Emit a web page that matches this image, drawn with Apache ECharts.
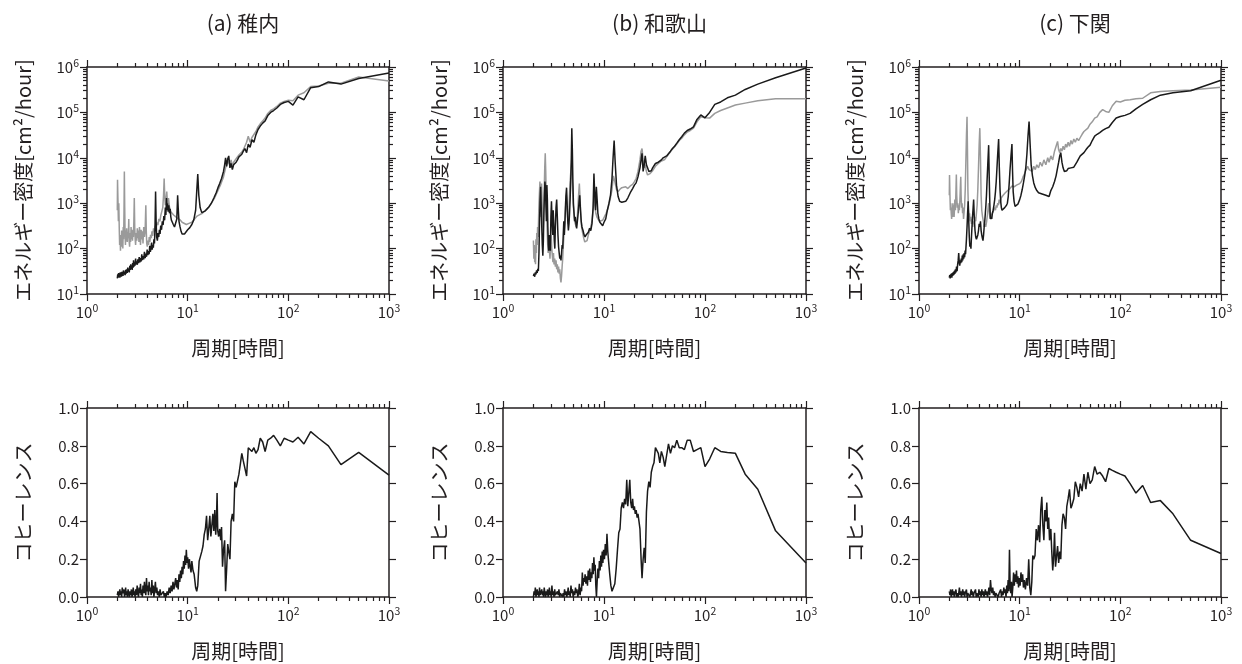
<!DOCTYPE html>
<html><head><meta charset="utf-8">
<script src="https://cdn.jsdelivr.net/npm/echarts@6.0.0/dist/echarts.min.js"></script>
<style>html,body{margin:0;padding:0;background:#fff}#chart{width:1242px;height:664px}</style>
</head><body><div id="chart"></div>
<script>
// ---------------- DATA ----------------
const panelTitles = ['(a) 稚内', '(b) 和歌山', '(c) 下関'];
const xName = '周期[時間]';
const energyName = 'エネルギー密度[cm²/hour]';
const cohName = 'コヒーレンス';

const xMajorTicks = [1, 10, 100, 1000];
const xMinorTicks = [2,3,4,5,6,7,8,9,20,30,40,50,60,70,80,90,200,300,400,500,600,700,800,900];
const yLogMajorTicks = [10, 100, 1000, 10000, 100000, 1000000];
const yLogMinorTicks = [20,30,40,50,60,70,80,90,200,300,400,500,600,700,800,900,
  2000,3000,4000,5000,6000,7000,8000,9000,20000,30000,40000,50000,60000,70000,80000,90000,
  200000,300000,400000,500000,600000,700000,800000,900000];

// (a) 稚内 energy density: black line
const energyA_black = [[2.00,22],[2.02,27],[2.04,23],[2.06,29],[2.08,24],[2.10,28],[2.12,23],[2.14,30],[2.16,25],[2.18,29],[2.20,24],[2.22,31],[2.24,26],[2.26,29],[2.28,25],[2.30,33],[2.33,27],[2.36,31],[2.39,26],[2.42,34],[2.45,28],[2.48,35],[2.51,29],[2.54,38],[2.57,31],[2.60,36],[2.63,30],[2.66,42],[2.69,34],[2.72,45],[2.75,36],[2.78,40],[2.81,34],[2.84,48],[2.87,38],[2.90,55],[2.93,40],[2.96,50],[3.00,42],[3.04,60],[3.08,45],[3.12,52],[3.16,44],[3.20,58],[3.25,48],[3.30,65],[3.35,50],[3.40,62],[3.45,52],[3.50,75],[3.55,56],[3.60,68],[3.66,58],[3.72,85],[3.78,62],[3.84,78],[3.90,66],[3.96,95],[4.02,72],[4.08,88],[4.14,75],[4.20,115],[4.26,85],[4.32,100],[4.38,135],[4.44,95],[4.50,120],[4.56,105],[4.62,160],[4.68,130],[4.74,300],[4.80,1800],[4.86,400],[4.92,180],[5.00,150],[5.08,220],[5.16,180],[5.24,260],[5.32,210],[5.40,320],[5.50,260],[5.60,400],[5.70,330],[5.80,520],[5.90,420],[6.00,800],[6.08,550],[6.16,1300],[6.24,700],[6.32,1000],[6.40,650],[6.50,900],[6.60,600],[6.70,750],[6.80,500],[6.90,420],[7.00,380],[7.20,340],[7.40,300],[7.60,320],[7.80,450],[7.95,1500],[8.05,800],[8.20,400],[8.40,300],[8.60,240],[8.80,210],[9.00,195],[9.30,210],[9.60,230],[10.0,260],[10.5,290],[11.0,340],[11.5,430],[12.0,700],[12.3,1800],[12.6,4400],[12.9,1500],[13.3,800],[13.8,620],[14.3,600],[15.0,680],[15.6,720],[16.4,850],[17.2,1000],[18.2,1300],[19.2,1700],[20.0,2200],[20.8,2700],[21.7,3500],[22.7,5000],[23.3,7000],[23.8,10000],[24.4,6500],[25.0,9500],[25.6,11000],[26.3,6000],[27.0,7500],[27.8,5500],[28.6,7000],[29.4,6500],[30.3,8000],[31.25,9000],[32.3,10500],[33.3,9500],[34.5,12000],[35.7,14000],[37.0,16000],[38.5,13000],[40.0,20000],[41.7,17000],[43.5,25000],[45.5,22000],[47.6,32000],[50.0,42000],[52.6,50000],[55.6,58000],[58.8,65000],[62.5,85000],[66.7,100000],[71.4,110000],[76.9,125000],[83.3,150000],[90.9,165000],[100,175000],[111.1,145000],[125,220000],[142.9,190000],[166.7,350000],[200,370000],[250,470000],[333.3,420000],[500,560000],[1000,740000]];
// (a) 稚内 energy density: gray line
const energyA_gray = [[2.00,700],[2.01,3300],[2.03,1200],[2.05,400],[2.07,1000],[2.09,300],[2.11,120],[2.13,200],[2.15,90],[2.17,160],[2.19,110],[2.21,250],[2.23,130],[2.25,200],[2.27,100],[2.29,300],[2.31,160],[2.33,600],[2.35,5000],[2.37,800],[2.39,200],[2.41,120],[2.43,250],[2.45,150],[2.48,280],[2.51,140],[2.54,230],[2.57,170],[2.60,450],[2.62,150],[2.65,110],[2.68,220],[2.71,140],[2.74,300],[2.77,160],[2.80,260],[2.83,150],[2.86,220],[2.89,180],[2.92,400],[2.95,1300],[2.98,300],[3.01,160],[3.04,120],[3.08,220],[3.12,150],[3.16,280],[3.20,170],[3.24,250],[3.28,140],[3.32,300],[3.36,200],[3.40,120],[3.45,260],[3.50,160],[3.55,240],[3.60,130],[3.66,300],[3.72,180],[3.78,250],[3.84,900],[3.88,250],[3.92,130],[3.97,110],[4.03,150],[4.09,120],[4.15,180],[4.21,140],[4.28,200],[4.35,170],[4.42,240],[4.50,190],[4.58,280],[4.66,230],[4.76,320],[4.86,280],[4.96,380],[5.06,330],[5.18,450],[5.30,400],[5.42,550],[5.54,500],[5.66,800],[5.76,1500],[5.84,3500],[5.92,1400],[6.00,900],[6.10,1200],[6.20,1800],[6.30,1000],[6.45,1300],[6.60,800],[6.80,650],[7.00,700],[7.25,550],[7.50,500],[7.80,480],[8.10,520],[8.40,430],[8.80,380],[9.20,350],[9.70,340],[10.3,360],[11.0,380],[11.7,450],[12.4,520],[13.2,560],[14.0,600],[15.0,700],[16.0,800],[17.2,1000],[18.5,1300],[20.0,1900],[21.3,2600],[22.7,3800],[23.8,6000],[25.0,8500],[26.3,7000],[27.0,9000],[27.8,6500],[28.6,8000],[30.3,9500],[31.25,10000],[32.3,11500],[33.3,12000],[34.5,13500],[35.7,15000],[37.0,18000],[38.5,22000],[40.0,30000],[41.7,22000],[43.5,28000],[45.5,30000],[47.6,38000],[50.0,48000],[52.6,56000],[55.6,65000],[58.8,75000],[62.5,95000],[66.7,110000],[71.4,120000],[76.9,135000],[83.3,160000],[90.9,175000],[100,185000],[111.1,180000],[125,240000],[142.9,270000],[166.7,370000],[200,380000],[250,440000],[333.3,440000],[500,600000],[1000,490000]];

// (b) 和歌山 energy density: black line
const energyB_black = [[2.00,25],[2.03,28],[2.06,24],[2.09,30],[2.12,27],[2.15,33],[2.18,29],[2.21,36],[2.24,32],[2.27,80],[2.30,400],[2.33,1200],[2.36,2300],[2.39,800],[2.42,300],[2.45,120],[2.48,70],[2.51,150],[2.54,600],[2.57,1500],[2.60,3000],[2.63,2200],[2.66,900],[2.69,400],[2.72,2500],[2.75,1200],[2.78,300],[2.81,120],[2.84,90],[2.87,200],[2.90,150],[2.94,90],[2.98,500],[3.02,1100],[3.06,400],[3.10,200],[3.14,700],[3.18,350],[3.22,150],[3.26,100],[3.30,300],[3.35,800],[3.40,1200],[3.45,500],[3.50,200],[3.55,110],[3.60,80],[3.65,60],[3.70,70],[3.75,55],[3.80,80],[3.85,120],[3.90,100],[3.95,200],[4.00,400],[4.05,200],[4.10,350],[4.15,800],[4.20,1500],[4.26,2200],[4.32,900],[4.38,400],[4.44,250],[4.50,350],[4.56,600],[4.62,1200],[4.68,3000],[4.74,8000],[4.80,45000],[4.86,15000],[4.92,3000],[4.98,1000],[5.05,600],[5.12,400],[5.20,500],[5.28,350],[5.36,280],[5.45,400],[5.55,600],[5.65,1000],[5.75,1500],[5.85,700],[5.95,400],[6.05,300],[6.20,250],[6.35,200],[6.50,180],[6.65,200],[6.80,190],[7.00,230],[7.20,280],[7.40,250],[7.60,350],[7.80,800],[7.95,4500],[8.10,1500],[8.25,700],[8.40,2300],[8.55,1200],[8.70,600],[8.90,450],[9.10,380],[9.40,350],[9.70,320],[10.0,380],[10.4,450],[10.8,700],[11.2,1000],[11.6,1500],[12.0,3500],[12.3,10000],[12.6,24000],[12.9,8000],[13.3,2500],[13.8,1400],[14.3,1100],[15.0,1050],[15.6,1000],[16.4,1100],[17.2,1300],[18.2,1700],[19.2,2100],[20.0,2500],[20.8,2800],[21.7,3800],[22.7,6000],[23.3,9000],[23.8,12500],[24.4,5000],[25.0,7000],[25.6,11000],[26.3,7000],[27.0,6000],[27.8,5000],[28.6,5500],[29.4,5200],[30.3,6000],[31.25,6500],[32.3,7500],[33.3,7000],[34.5,8000],[35.7,8500],[37.0,9000],[38.5,10000],[40.0,9500],[41.7,11000],[43.5,12000],[45.5,14000],[47.6,16000],[50.0,18000],[52.6,21000],[55.6,25000],[58.8,29000],[62.5,35000],[66.7,40000],[71.4,43000],[76.9,48000],[83.3,70000],[90.9,88000],[100,76000],[111.1,100000],[125,150000],[142.9,170000],[166.7,210000],[200,240000],[250,320000],[333.3,420000],[500,580000],[1000,950000]];
// (b) 和歌山 energy density: gray line
const energyB_gray = [[2.00,150],[2.02,60],[2.04,120],[2.06,50],[2.08,90],[2.10,45],[2.12,160],[2.14,80],[2.16,220],[2.18,120],[2.20,300],[2.23,180],[2.26,700],[2.29,1500],[2.32,3000],[2.35,1200],[2.38,500],[2.41,2700],[2.44,1000],[2.47,400],[2.50,250],[2.53,600],[2.56,2000],[2.59,6000],[2.62,12600],[2.65,5000],[2.68,1500],[2.71,500],[2.74,250],[2.77,120],[2.80,80],[2.84,150],[2.88,90],[2.92,60],[2.96,110],[3.00,200],[3.04,100],[3.08,70],[3.12,50],[3.16,80],[3.20,45],[3.25,60],[3.30,40],[3.35,55],[3.40,35],[3.45,45],[3.50,30],[3.55,40],[3.60,28],[3.65,35],[3.70,22],[3.75,18],[3.80,25],[3.85,40],[3.90,60],[3.95,110],[4.00,180],[4.06,300],[4.12,500],[4.18,900],[4.24,1500],[4.30,800],[4.36,500],[4.42,350],[4.48,600],[4.54,1200],[4.60,2500],[4.66,4000],[4.72,6000],[4.78,9000],[4.84,4000],[4.90,1800],[4.96,900],[5.04,600],[5.12,400],[5.20,350],[5.30,300],[5.40,400],[5.50,700],[5.60,1500],[5.70,2700],[5.80,1200],[5.90,500],[6.00,300],[6.15,220],[6.30,170],[6.45,140],[6.60,130],[6.80,150],[7.00,200],[7.20,250],[7.40,300],[7.60,400],[7.80,700],[7.95,1300],[8.10,1000],[8.30,600],[8.50,500],[8.70,450],[9.00,400],[9.30,380],[9.70,420],[10.0,450],[10.5,600],[11.0,800],[11.5,1200],[12.0,2000],[12.4,4000],[12.8,3000],[13.3,2000],[13.8,1800],[14.3,2000],[15.0,2200],[15.6,2000],[16.4,2300],[17.2,2100],[18.2,2400],[19.2,2600],[20.0,3000],[20.8,3500],[21.7,5000],[22.7,9000],[23.3,14000],[23.8,16000],[24.4,9000],[25.0,6000],[25.6,7000],[26.3,5000],[27.0,4200],[27.8,3800],[28.6,4500],[29.4,4800],[30.3,5200],[31.25,5800],[32.3,6500],[33.3,6800],[34.5,7500],[35.7,8000],[37.0,8500],[38.5,9000],[40.0,9200],[41.7,10500],[43.5,11500],[45.5,13500],[47.6,15500],[50.0,17500],[52.6,20000],[55.6,24000],[58.8,27000],[62.5,32000],[66.7,37000],[71.4,40000],[76.9,45000],[83.3,62000],[90.9,80000],[100,76000],[111.1,75000],[125,95000],[142.9,110000],[166.7,125000],[200,145000],[250,160000],[333.3,180000],[500,200000],[1000,200000]];

// (c) 下関 energy density: black line
const energyC_black = [[2.00,23],[2.02,26],[2.04,22],[2.06,27],[2.08,24],[2.10,28],[2.12,23],[2.14,29],[2.16,25],[2.18,30],[2.20,26],[2.22,31],[2.24,27],[2.26,33],[2.28,28],[2.30,35],[2.33,30],[2.36,40],[2.39,32],[2.42,45],[2.45,55],[2.48,80],[2.51,50],[2.54,42],[2.57,55],[2.60,48],[2.63,60],[2.66,50],[2.69,70],[2.72,55],[2.75,75],[2.78,60],[2.81,80],[2.84,65],[2.87,90],[2.90,75],[2.93,110],[2.96,160],[3.00,300],[3.04,600],[3.08,1100],[3.12,400],[3.16,180],[3.20,110],[3.24,130],[3.28,100],[3.32,180],[3.36,300],[3.40,500],[3.45,800],[3.49,1200],[3.54,500],[3.60,250],[3.66,180],[3.72,160],[3.78,150],[3.84,200],[3.90,250],[3.96,350],[4.02,300],[4.08,400],[4.14,250],[4.20,200],[4.26,170],[4.32,150],[4.38,200],[4.44,300],[4.50,400],[4.56,600],[4.62,900],[4.68,1500],[4.74,3000],[4.82,7000],[4.92,19000],[4.98,4000],[5.05,1000],[5.12,450],[5.20,500],[5.28,450],[5.36,600],[5.45,700],[5.55,900],[5.65,1200],[5.75,1800],[5.85,3000],[5.95,6000],[6.05,12000],[6.18,26000],[6.28,6000],[6.38,2000],[6.48,1100],[6.58,800],[6.68,700],[6.80,750],[6.95,700],[7.10,800],[7.25,750],[7.40,900],[7.55,1000],[7.70,1400],[7.85,2500],[8.00,5000],[8.20,11000],[8.38,20000],[8.50,5000],[8.62,1800],[8.80,1100],[9.00,850],[9.20,900],[9.40,800],[9.60,950],[9.80,1000],[10.0,1200],[10.3,1500],[10.6,2000],[10.9,2800],[11.2,4000],[11.5,6000],[11.8,12000],[12.1,30000],[12.4,63000],[12.7,20000],[13.0,7000],[13.4,4000],[13.8,2800],[14.3,2200],[14.8,1900],[15.4,1700],[16.0,1800],[16.7,1600],[17.4,1700],[18.2,1500],[19.0,1600],[19.6,1400],[20.4,1900],[21.3,2300],[22.2,3000],[23.0,4000],[23.8,6000],[24.4,8000],[25.0,11000],[25.6,13000],[26.3,8000],[27.0,6000],[27.8,5000],[28.6,5500],[29.4,5200],[30.3,5800],[31.25,5400],[32.3,6000],[33.3,5600],[34.5,6200],[35.7,6800],[37.0,8000],[38.5,9500],[40.0,11000],[41.7,10500],[43.5,13000],[45.5,15000],[47.6,17000],[50.0,19000],[52.6,24000],[55.6,30000],[58.8,33000],[62.5,36000],[66.7,40000],[71.4,44000],[76.9,47000],[83.3,60000],[90.9,75000],[100,81000],[111.1,86000],[125,95000],[142.9,120000],[166.7,150000],[200,190000],[250,240000],[333.3,270000],[500,300000],[1000,510000]];
// (c) 下関 energy density: gray line
const energyC_gray = [[2.00,1500],[2.01,4200],[2.03,1500],[2.05,700],[2.07,1000],[2.09,600],[2.11,450],[2.13,800],[2.15,500],[2.17,1000],[2.19,600],[2.21,900],[2.23,500],[2.25,700],[2.27,1200],[2.30,700],[2.33,2000],[2.35,4300],[2.37,1500],[2.40,800],[2.43,1000],[2.46,600],[2.49,900],[2.52,700],[2.55,1200],[2.58,2500],[2.60,3800],[2.62,1500],[2.65,800],[2.68,1000],[2.71,600],[2.74,800],[2.77,450],[2.80,600],[2.84,900],[2.88,2000],[2.92,8000],[2.96,30000],[3.00,80000],[3.03,15000],[3.06,2000],[3.10,700],[3.14,500],[3.18,600],[3.22,400],[3.27,500],[3.32,350],[3.37,450],[3.42,300],[3.48,400],[3.54,350],[3.60,500],[3.66,400],[3.72,600],[3.78,900],[3.84,2000],[3.90,6000],[3.96,20000],[4.02,45000],[4.08,10000],[4.14,1500],[4.20,700],[4.28,500],[4.36,400],[4.44,300],[4.52,350],[4.60,300],[4.70,400],[4.80,600],[4.92,1000],[5.05,500],[5.15,450],[5.25,550],[5.35,500],[5.45,650],[5.55,600],[5.65,800],[5.75,700],[5.85,900],[5.95,800],[6.05,1000],[6.15,900],[6.25,1200],[6.40,1000],[6.55,1300],[6.70,1200],[6.85,1500],[7.00,1400],[7.20,1700],[7.40,1600],[7.60,1900],[7.80,1800],[8.00,2100],[8.20,2000],[8.40,2400],[8.60,2200],[8.80,2300],[9.00,2100],[9.30,2500],[9.60,2300],[10.0,2700],[10.4,3000],[10.8,3800],[11.2,4500],[11.6,5500],[12.0,6500],[12.4,5500],[12.8,6000],[13.3,5000],[13.8,6500],[14.3,5500],[14.8,7000],[15.4,6000],[16.0,8000],[16.7,6500],[17.4,9000],[18.2,7000],[19.0,10000],[19.6,8000],[20.4,11000],[21.3,9000],[22.2,14000],[23.0,18000],[23.8,23000],[24.4,15000],[25.0,13000],[25.6,16000],[26.3,14000],[27.0,18000],[27.8,15000],[28.6,20000],[29.4,17000],[30.3,22000],[31.25,18000],[32.3,24000],[33.3,20000],[34.5,26000],[35.7,22000],[37.0,27000],[38.5,24000],[40.0,28000],[41.7,33000],[43.5,38000],[45.5,42000],[47.6,45000],[50.0,55000],[52.6,62000],[55.6,75000],[58.8,80000],[62.5,100000],[66.7,115000],[71.4,105000],[76.9,100000],[83.3,140000],[90.9,175000],[100,170000],[111.1,185000],[125,190000],[142.9,200000],[166.7,205000],[200,270000],[250,290000],[333.3,300000],[500,310000],[1000,360000]];

// coherence
const cohA = [[2.00,0.01],[2.03,0.03],[2.06,0.0],[2.09,0.02],[2.12,0.04],[2.15,0.01],[2.18,0.03],[2.21,0.0],[2.24,0.05],[2.27,0.02],[2.30,0.01],[2.33,0.04],[2.36,0.0],[2.39,0.02],[2.42,0.05],[2.45,0.01],[2.48,0.03],[2.52,0.0],[2.56,0.04],[2.60,0.02],[2.64,0.0],[2.68,0.03],[2.72,0.01],[2.76,0.04],[2.80,0.0],[2.84,0.02],[2.88,0.05],[2.92,0.01],[2.96,0.03],[3.00,0.0],[3.05,0.04],[3.10,0.01],[3.15,0.06],[3.20,0.02],[3.25,0.0],[3.30,0.05],[3.35,0.02],[3.40,0.07],[3.45,0.01],[3.50,0.04],[3.55,0.0],[3.60,0.06],[3.66,0.02],[3.72,0.08],[3.78,0.03],[3.84,0.01],[3.90,0.10],[3.96,0.03],[4.02,0.06],[4.08,0.01],[4.14,0.08],[4.20,0.03],[4.27,0.05],[4.34,0.01],[4.41,0.09],[4.48,0.02],[4.55,0.06],[4.62,0.0],[4.70,0.04],[4.78,0.08],[4.86,0.02],[4.94,0.05],[5.02,0.01],[5.12,0.03],[5.22,0.0],[5.32,0.04],[5.42,0.01],[5.52,0.02],[5.62,0.0],[5.74,0.03],[5.86,0.0],[5.98,0.02],[6.10,0.0],[6.25,0.03],[6.40,0.01],[6.55,0.05],[6.70,0.02],[6.85,0.06],[7.00,0.03],[7.15,0.08],[7.30,0.04],[7.45,0.07],[7.60,0.10],[7.75,0.05],[7.90,0.09],[8.05,0.04],[8.20,0.12],[8.35,0.08],[8.50,0.14],[8.65,0.10],[8.80,0.16],[8.95,0.12],[9.10,0.19],[9.25,0.15],[9.40,0.22],[9.55,0.17],[9.70,0.25],[9.85,0.18],[10.0,0.21],[10.2,0.15],[10.4,0.20],[10.6,0.16],[10.8,0.13],[11.0,0.19],[11.3,0.14],[11.6,0.12],[12.0,0.05],[12.3,0.03],[12.6,0.06],[13.0,0.19],[13.4,0.20],[13.8,0.24],[14.2,0.27],[14.6,0.33],[15.0,0.36],[15.4,0.43],[15.8,0.30],[16.2,0.36],[16.6,0.43],[17.0,0.32],[17.4,0.38],[17.8,0.44],[18.2,0.35],[18.6,0.46],[19.0,0.33],[19.3,0.40],[19.6,0.55],[19.9,0.35],[20.3,0.32],[20.8,0.36],[21.3,0.30],[21.7,0.37],[22.2,0.16],[22.7,0.25],[23.3,0.30],[23.8,0.03],[24.4,0.15],[25.0,0.28],[25.6,0.24],[26.3,0.20],[27.0,0.40],[27.8,0.44],[28.6,0.40],[29.4,0.61],[30.3,0.58],[31.25,0.59],[32.3,0.65],[33.3,0.70],[34.5,0.76],[35.7,0.72],[37.0,0.73],[38.5,0.64],[40.0,0.79],[41.7,0.80],[43.5,0.77],[45.5,0.79],[47.6,0.76],[50.0,0.78],[52.6,0.84],[55.6,0.82],[58.8,0.77],[62.5,0.83],[66.7,0.84],[71.4,0.855],[76.9,0.83],[83.3,0.80],[90.9,0.84],[100,0.83],[111.1,0.82],[125,0.845],[142.9,0.81],[166.7,0.875],[200,0.84],[250,0.80],[333.3,0.70],[500,0.765],[1000,0.645]];
const cohB = [[2.00,0.0],[2.03,0.03],[2.06,0.01],[2.09,0.05],[2.12,0.0],[2.15,0.02],[2.18,0.04],[2.21,0.01],[2.24,0.03],[2.27,0.0],[2.30,0.05],[2.33,0.01],[2.36,0.02],[2.39,0.0],[2.42,0.04],[2.45,0.01],[2.48,0.03],[2.52,0.0],[2.56,0.05],[2.60,0.02],[2.64,0.0],[2.68,0.03],[2.72,0.01],[2.76,0.04],[2.80,0.0],[2.84,0.02],[2.88,0.05],[2.92,0.01],[2.96,0.03],[3.00,0.0],[3.05,0.06],[3.10,0.01],[3.15,0.03],[3.20,0.0],[3.25,0.04],[3.30,0.01],[3.35,0.02],[3.40,0.0],[3.46,0.03],[3.52,0.01],[3.58,0.04],[3.64,0.0],[3.70,0.02],[3.76,0.01],[3.82,0.03],[3.88,0.0],[3.94,0.02],[4.00,0.0],[4.07,0.04],[4.14,0.01],[4.21,0.03],[4.28,0.0],[4.35,0.02],[4.42,0.05],[4.49,0.01],[4.56,0.03],[4.63,0.0],[4.71,0.06],[4.79,0.02],[4.87,0.04],[4.95,0.0],[5.04,0.03],[5.13,0.01],[5.22,0.05],[5.31,0.02],[5.40,0.04],[5.50,0.0],[5.60,0.02],[5.70,0.07],[5.80,0.01],[5.90,0.05],[6.00,0.03],[6.10,0.13],[6.20,0.06],[6.30,0.10],[6.40,0.08],[6.50,0.12],[6.62,0.07],[6.74,0.11],[6.86,0.06],[6.98,0.14],[7.10,0.09],[7.22,0.15],[7.34,0.08],[7.46,0.13],[7.58,0.10],[7.70,0.18],[7.82,0.12],[7.94,0.21],[8.06,0.14],[8.18,0.17],[8.30,0.06],[8.42,0.0],[8.55,0.08],[8.70,0.15],[8.85,0.10],[9.00,0.19],[9.15,0.14],[9.30,0.22],[9.45,0.16],[9.60,0.24],[9.75,0.18],[9.90,0.25],[10.1,0.20],[10.3,0.28],[10.5,0.22],[10.7,0.335],[10.9,0.24],[11.1,0.19],[11.4,0.12],[11.7,0.06],[12.0,0.03],[12.4,0.025],[12.8,0.07],[13.2,0.15],[13.6,0.25],[14.0,0.34],[14.4,0.36],[14.8,0.47],[15.2,0.50],[15.6,0.47],[16.0,0.52],[16.4,0.49],[16.8,0.62],[17.2,0.48],[17.6,0.55],[18.0,0.62],[18.4,0.50],[18.8,0.47],[19.2,0.52],[19.6,0.46],[20.0,0.48],[20.4,0.44],[20.8,0.46],[21.3,0.42],[21.7,0.44],[22.2,0.40],[22.7,0.36],[23.3,0.20],[23.8,0.10],[24.4,0.20],[25.0,0.26],[25.6,0.18],[26.3,0.45],[27.0,0.56],[27.8,0.61],[28.6,0.58],[29.4,0.66],[30.3,0.69],[31.25,0.71],[32.3,0.79],[33.3,0.78],[34.5,0.76],[35.7,0.71],[37.0,0.77],[38.5,0.74],[40.0,0.69],[41.7,0.75],[43.5,0.81],[45.5,0.76],[47.6,0.80],[50.0,0.79],[52.6,0.83],[55.6,0.79],[58.8,0.79],[62.5,0.78],[66.7,0.83],[71.4,0.83],[76.9,0.77],[83.3,0.78],[90.9,0.79],[100,0.69],[111.1,0.73],[125,0.79],[142.9,0.77],[166.7,0.765],[200,0.76],[250,0.65],[333.3,0.57],[500,0.35],[1000,0.18]];
const cohC = [[2.00,0.03],[2.03,0.01],[2.06,0.04],[2.09,0.0],[2.12,0.02],[2.15,0.04],[2.18,0.01],[2.21,0.03],[2.24,0.0],[2.27,0.02],[2.30,0.01],[2.33,0.04],[2.36,0.0],[2.39,0.02],[2.42,0.03],[2.45,0.0],[2.48,0.02],[2.52,0.05],[2.56,0.01],[2.60,0.03],[2.64,0.0],[2.68,0.02],[2.72,0.04],[2.76,0.01],[2.80,0.03],[2.84,0.0],[2.88,0.02],[2.92,0.01],[2.96,0.04],[3.00,0.0],[3.05,0.02],[3.10,0.01],[3.15,0.03],[3.20,0.0],[3.25,0.02],[3.30,0.04],[3.35,0.01],[3.40,0.03],[3.46,0.0],[3.52,0.02],[3.58,0.01],[3.64,0.04],[3.70,0.0],[3.76,0.02],[3.82,0.03],[3.88,0.0],[3.94,0.04],[4.00,0.01],[4.07,0.03],[4.14,0.0],[4.21,0.04],[4.28,0.01],[4.35,0.03],[4.42,0.0],[4.49,0.02],[4.56,0.04],[4.63,0.01],[4.71,0.03],[4.79,0.0],[4.87,0.02],[4.95,0.05],[5.04,0.01],[5.13,0.09],[5.22,0.04],[5.31,0.02],[5.40,0.05],[5.50,0.01],[5.60,0.03],[5.70,0.0],[5.80,0.02],[5.90,0.01],[6.00,0.03],[6.12,0.0],[6.24,0.02],[6.36,0.01],[6.48,0.04],[6.60,0.0],[6.72,0.03],[6.84,0.01],[6.96,0.05],[7.08,0.02],[7.20,0.04],[7.32,0.0],[7.44,0.06],[7.56,0.02],[7.68,0.09],[7.80,0.03],[7.92,0.25],[8.04,0.06],[8.16,0.02],[8.28,0.08],[8.40,0.0],[8.55,0.05],[8.70,0.13],[8.85,0.06],[9.00,0.12],[9.15,0.08],[9.30,0.14],[9.45,0.07],[9.60,0.11],[9.75,0.05],[9.90,0.10],[10.1,0.06],[10.3,0.13],[10.5,0.08],[10.7,0.12],[10.9,0.05],[11.1,0.09],[11.4,0.04],[11.7,0.10],[12.0,0.06],[12.3,0.20],[12.6,0.05],[12.9,0.01],[13.2,0.08],[13.5,0.22],[13.8,0.20],[14.2,0.22],[14.6,0.36],[15.0,0.30],[15.4,0.38],[15.8,0.29],[16.2,0.46],[16.6,0.53],[17.0,0.38],[17.4,0.30],[17.8,0.46],[18.2,0.40],[18.6,0.50],[19.0,0.36],[19.4,0.42],[19.8,0.30],[20.4,0.36],[20.8,0.25],[21.3,0.14],[21.7,0.20],[22.2,0.34],[22.7,0.16],[23.3,0.22],[23.8,0.27],[24.4,0.18],[25.0,0.24],[25.6,0.20],[26.3,0.38],[27.0,0.44],[27.8,0.42],[28.6,0.36],[29.4,0.48],[30.3,0.52],[31.25,0.57],[32.3,0.47],[33.3,0.49],[34.5,0.52],[35.7,0.61],[37.0,0.58],[38.5,0.53],[40.0,0.60],[41.7,0.56],[43.5,0.65],[45.5,0.57],[47.6,0.66],[50.0,0.60],[52.6,0.62],[55.6,0.69],[58.8,0.65],[62.5,0.66],[66.7,0.64],[71.4,0.61],[76.9,0.68],[83.3,0.67],[90.9,0.66],[100,0.65],[111.1,0.64],[125,0.60],[142.9,0.55],[166.7,0.59],[200,0.50],[250,0.51],[333.3,0.44],[500,0.30],[1000,0.23]];

// ---------------- LAYOUT & STYLE ----------------
const FONT = '"Noto Sans CJK JP","Noto Sans",sans-serif';
const INK = '#231f20';
const BLACK = '#1a1a1a';
const GRAY = '#9a9a9a';
const colLefts = [87, 503, 919];
const colWidths = [302, 303, 302];
const rowBoxes = [{top: 67, height: 227}, {top: 408, height: 189}];

const energyBlack = [energyA_black, energyB_black, energyC_black];
const energyGray = [energyA_gray, energyB_gray, energyC_gray];
const coherence = [cohA, cohB, cohC];

const powRich = {
  b: {fontSize: 15, fontFamily: FONT, color: INK, lineHeight: 19},
  e: {fontSize: 10.5, fontFamily: FONT, color: INK, lineHeight: 10, verticalAlign: 'top'}
};
function powLabel(v) { return '{b|10}{e|' + Math.round(Math.log10(v)) + '}'; }

const lineAx = {show: true, onZero: false, lineStyle: {color: INK, width: 1.5}};
const noLine = {show: false, onZero: false};
function tick(vals, len) { return {show: true, inside: false, customValues: vals, length: len, lineStyle: {color: INK, width: 1.2}}; }

function makeXAxes(gi) {
  const base = {type: 'log', logBase: 10, min: 1, max: 1000, gridIndex: gi, splitLine: {show: false}, axisPointer: {show: false}, silent: true};
  return [
    Object.assign({}, base, {position: 'bottom', axisLine: lineAx, axisTick: tick(xMajorTicks, 7),
      axisLabel: {show: true, customValues: xMajorTicks, formatter: powLabel, rich: powRich, margin: 9},
      name: xName, nameLocation: 'middle', nameGap: 44,
      nameTextStyle: {fontSize: 20, fontFamily: FONT, color: INK}}),
    Object.assign({}, base, {position: 'bottom', axisLine: noLine, axisTick: tick(xMinorTicks, 4), axisLabel: {show: false}}),
    Object.assign({}, base, {position: 'top', axisLine: lineAx, axisTick: tick(xMajorTicks, 7), axisLabel: {show: false}}),
    Object.assign({}, base, {position: 'top', axisLine: noLine, axisTick: tick(xMinorTicks, 4), axisLabel: {show: false}})
  ];
}
function makeLogYAxes(gi) {
  const base = {type: 'log', logBase: 10, min: 10, max: 1000000, gridIndex: gi, splitLine: {show: false}, axisPointer: {show: false}, silent: true};
  return [
    Object.assign({}, base, {position: 'left', axisLine: lineAx, axisTick: tick(yLogMajorTicks, 7),
      axisLabel: {show: true, customValues: yLogMajorTicks, formatter: powLabel, rich: powRich, margin: 8},
      name: energyName, nameLocation: 'middle', nameRotate: 90, nameGap: 54,
      nameTextStyle: {fontSize: 20, fontFamily: FONT, color: INK}}),
    Object.assign({}, base, {position: 'left', axisLine: noLine, axisTick: tick(yLogMinorTicks, 4), axisLabel: {show: false}}),
    Object.assign({}, base, {position: 'right', axisLine: lineAx, axisTick: tick(yLogMajorTicks, 7), axisLabel: {show: false}}),
    Object.assign({}, base, {position: 'right', axisLine: noLine, axisTick: tick(yLogMinorTicks, 4), axisLabel: {show: false}})
  ];
}
function makeCohYAxes(gi) {
  const base = {type: 'value', min: 0, max: 1, interval: 0.2, gridIndex: gi, splitLine: {show: false}, axisPointer: {show: false}, silent: true};
  return [
    Object.assign({}, base, {position: 'left', axisLine: lineAx, axisTick: {show: true, length: 7, lineStyle: {color: INK, width: 1.2}},
      axisLabel: {show: true, formatter: v => v.toFixed(1), fontSize: 15, fontFamily: FONT, color: INK, margin: 8},
      name: cohName, nameLocation: 'middle', nameRotate: 90, nameGap: 54,
      nameTextStyle: {fontSize: 20, fontFamily: FONT, color: INK}}),
    Object.assign({}, base, {position: 'right', axisLine: lineAx, axisTick: {show: true, length: 7, lineStyle: {color: INK, width: 1.2}}, axisLabel: {show: false}})
  ];
}
function lineSeries(data, xi, yi, color, width) {
  return {type: 'line', data: data, xAxisIndex: xi, yAxisIndex: yi, showSymbol: false, symbol: 'none',
    silent: true, animation: false, clip: true, lineStyle: {color: color, width: width}};
}

const grids = [], xAxes = [], yAxes = [], series = [], titles = [];
panelTitles.forEach((t, c) => {
  titles.push({text: t, left: colLefts[c] + colWidths[c] / 2, top: 8, textAlign: 'center',
    textStyle: {fontSize: 21, fontWeight: 'normal', fontFamily: FONT, color: INK}});
  rowBoxes.forEach((r, ri) => {
    const gi = grids.length;
    grids.push({left: colLefts[c], top: r.top, width: colWidths[c], height: r.height, containLabel: false});
    const xi = xAxes.length;
    xAxes.push(...makeXAxes(gi));
    const yi = yAxes.length;
    if (ri === 0) {
      yAxes.push(...makeLogYAxes(gi));
      series.push(lineSeries(energyGray[c], xi, yi, GRAY, 1.5));
      series.push(lineSeries(energyBlack[c], xi, yi, BLACK, 1.5));
    } else {
      yAxes.push(...makeCohYAxes(gi));
      series.push(lineSeries(coherence[c], xi, yi, BLACK, 1.5));
    }
  });
});

const chart = echarts.init(document.getElementById('chart'), null, {renderer: 'canvas'});
chart.setOption({
  backgroundColor: '#ffffff',
  animation: false,
  title: titles,
  grid: grids,
  xAxis: xAxes,
  yAxis: yAxes,
  series: series
});
</script></body></html>
